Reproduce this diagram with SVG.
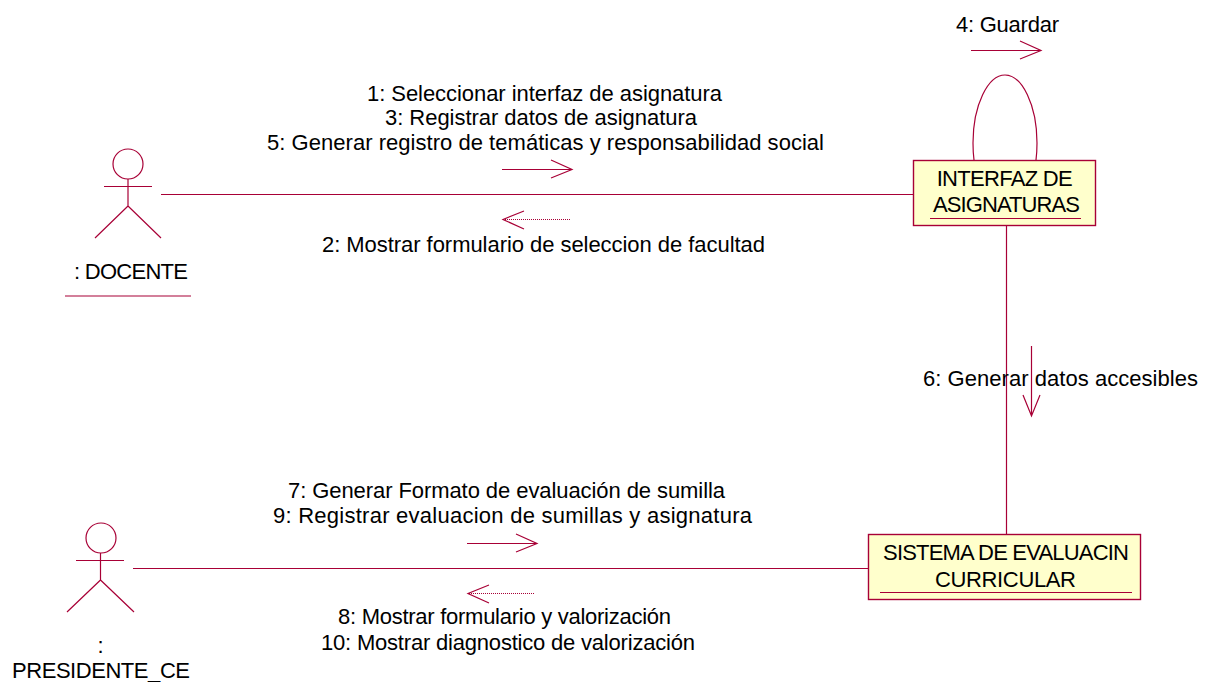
<svg xmlns="http://www.w3.org/2000/svg" width="1205" height="682" viewBox="0 0 1205 682">
<style>
.l{fill:none;stroke:#a80036;stroke-width:1.2}
.d{fill:none;stroke:#a80036;stroke-width:1.2;stroke-dasharray:1 1}
.b{fill:#ffffcc;stroke:#a80036;stroke-width:1.4}
text{font-family:"Liberation Sans",Arial,sans-serif;font-size:22px;fill:#000;text-anchor:middle}
</style>
<rect width="1205" height="682" fill="#fff"/>
<g id="connectors">
<path class="l" d="M161 194.500H913"/>
<path class="l" d="M133 568.500H868"/>
<path class="l" d="M1006.500 225V534"/>
<path class="l" d="M974 160Q973 152 973 143C973 105 988 75 1005 75C1022 75 1037 105 1037 143Q1037 152 1036 160"/>
</g>
<g id="messages">
<path class="l" d="M971 50.500H1041M1020 41L1041 50.500L1020 59"/>
<path class="l" d="M502 169.500H572M551 160L572 169.500L551 178"/>
<path class="d" d="M570 219.500H503"/><path class="l" d="M524 211L503 219.500L524 229"/>
<path class="l" d="M1031.500 346V416M1023 395L1031.500 416L1040 395"/>
<path class="l" d="M467 543.500H537M516 534L537 543.500L516 552"/>
<path class="d" d="M534 593.500H468"/><path class="l" d="M489 585L468 593.500L489 603"/>
<text x="1007.500" y="32" textLength="103">4: Guardar</text>
<text x="544.500" y="101" textLength="355">1: Seleccionar interfaz de asignatura</text>
<text x="541" y="125" textLength="312">3: Registrar datos de asignatura</text>
<text x="545.500" y="150" textLength="557">5: Generar registro de temáticas y responsabilidad social</text>
<text x="543.500" y="252" textLength="443">2: Mostrar formulario de seleccion de facultad</text>
<text x="1060.500" y="386" textLength="275">6: Generar datos accesibles</text>
<text x="506.500" y="498" textLength="437">7: Generar Formato de evaluación de sumilla</text>
<text x="512.500" y="523" textLength="479">9: Registrar evaluacion de sumillas y asignatura</text>
<text x="504.500" y="624" textLength="333">8: Mostrar formulario y valorización</text>
<text x="508" y="650" textLength="374">10: Mostrar diagnostico de valorización</text>
</g>
<g id="docente">
<circle class="l" cx="128" cy="164" r="15"/>
<path class="l" d="M104 186.500H152M128 179V206M128 206L95 238M128 206L161 238"/>
<text x="131" y="279" textLength="114">: DOCENTE</text>
<path class="l" d="M65 296H191"/>
</g>
<g id="presidente">
<circle class="l" cx="101" cy="538" r="15"/>
<path class="l" d="M76 560.500H124M100.500 553V580M100.500 580L67 612M100.500 580L134 612"/>
<text x="100.500" y="653">:</text>
<text x="101" y="678" textLength="178">PRESIDENTE_CE</text>
</g>
<g id="interfaz">
<rect class="b" x="913.500" y="160.500" width="182" height="65"/>
<text x="1004.700" y="186" textLength="136">INTERFAZ DE</text>
<text x="1006.500" y="212" textLength="147">ASIGNATURAS</text>
<path class="l" d="M930 218.500H1081"/>
</g>
<g id="sistema">
<rect class="b" x="868.500" y="534.500" width="272" height="65"/>
<text x="1006" y="560" textLength="246">SISTEMA DE EVALUACIN</text>
<text x="1005.500" y="587" textLength="141">CURRICULAR</text>
<path class="l" d="M880 592.500H1132"/>
</g>
</svg>
